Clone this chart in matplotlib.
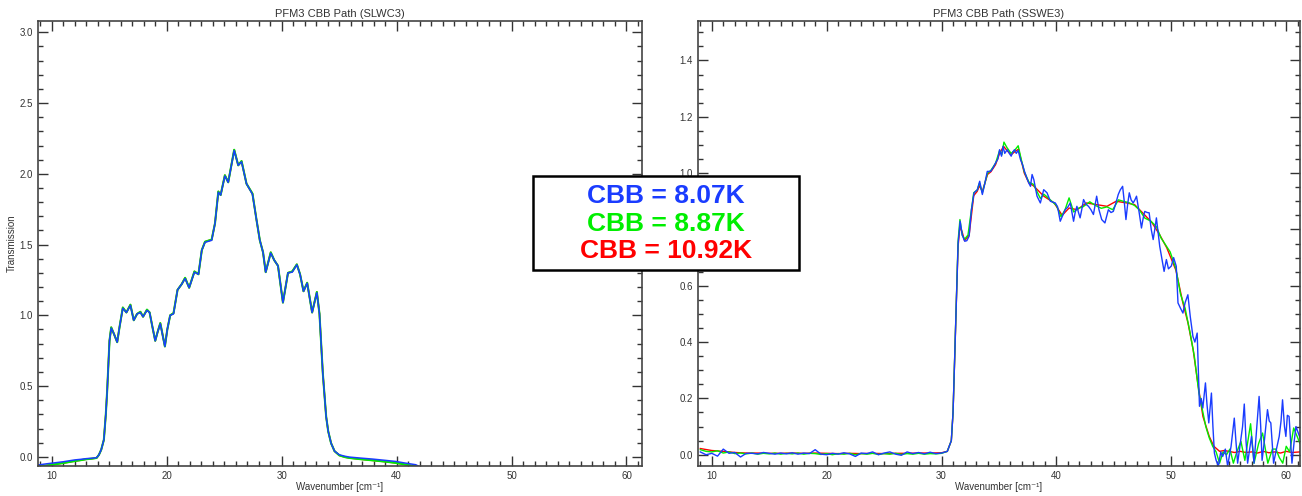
import matplotlib
matplotlib.use("Agg")
import matplotlib.pyplot as plt
from matplotlib.patches import Rectangle
from matplotlib.ticker import MultipleLocator

plt.rcParams['font.family'] = ['Liberation Sans', 'DejaVu Sans']

# ---- SLWC3 path (left panel) ----
slwc_wn = [8.8, 9.5, 10, 11, 12, 12.5, 13, 13.5, 13.9, 14.1, 14.3, 14.53, 14.7, 14.82,
           15.02, 15.17, 15.4, 15.69, 15.9, 16.18, 16.49, 16.84, 17.13, 17.42, 17.71,
           17.94, 18.28, 18.51, 18.75, 19.0, 19.2, 19.44, 19.84, 20.05, 20.3, 20.59,
           20.94, 21.3, 21.6, 21.95, 22.41, 22.76, 23.05, 23.33, 23.91, 24.2, 24.49,
           24.69, 25.06, 25.35, 25.87, 26.22, 26.51, 26.94, 27.46, 27.8, 28.1, 28.38,
           28.61, 29.05, 29.35, 29.68, 30.11, 30.55, 30.92, 31.32, 31.6, 31.9, 32.22,
           32.65, 33.06, 33.29, 33.58, 33.87, 34.05, 34.3, 34.6, 35.02, 35.5, 35.89,
           37.0, 37.9, 39.0, 39.93, 40.8, 41.66, 42.2]
slwc_blue = [-0.058, -0.05, -0.045, -0.035, -0.022, -0.018, -0.013, -0.01, -0.006, 0.014,
             0.05, 0.12, 0.3, 0.47, 0.82, 0.91, 0.87, 0.81, 0.92, 1.05, 1.02, 1.07, 0.965,
             1.01, 1.02, 0.99, 1.035, 1.02, 0.92, 0.82, 0.88, 0.94, 0.78, 0.9, 1.0, 1.01,
             1.18, 1.22, 1.26, 1.195, 1.305, 1.29, 1.46, 1.516, 1.53, 1.65, 1.87, 1.85,
             1.985, 1.94, 2.165, 2.06, 2.085, 1.93, 1.855, 1.68, 1.53, 1.445, 1.305, 1.44,
             1.39, 1.35, 1.09, 1.30, 1.305, 1.357, 1.29, 1.17, 1.227, 1.02, 1.16, 1.01,
             0.59, 0.284, 0.18, 0.096, 0.04, 0.014, 0.004, -0.002, -0.01, -0.016, -0.025,
             -0.033, -0.045, -0.056, -0.078]
slwc_green = [-0.068, -0.062, -0.056, -0.044, -0.03, -0.024, -0.017, -0.013, -0.008, 0.014,
              0.05, 0.12, 0.3, 0.47, 0.82, 0.915, 0.87, 0.81, 0.92, 1.055, 1.02, 1.075, 0.965,
              1.01, 1.025, 0.99, 1.04, 1.02, 0.92, 0.82, 0.88, 0.945, 0.78, 0.9, 1.0, 1.015,
              1.18, 1.22, 1.265, 1.195, 1.31, 1.29, 1.46, 1.52, 1.535, 1.65, 1.875, 1.85,
              1.99, 1.94, 2.17, 2.06, 2.09, 1.93, 1.86, 1.68, 1.53, 1.445, 1.305, 1.445,
              1.39, 1.35, 1.09, 1.30, 1.31, 1.36, 1.29, 1.17, 1.23, 1.02, 1.165, 1.01,
              0.59, 0.284, 0.18, 0.096, 0.04, 0.01, -0.002, -0.008, -0.018, -0.025, -0.034,
              -0.043, -0.055, -0.068, -0.09]

# ---- SSWE3 path (right panel) ----
sswe_wn_red = [9.0, 10, 11, 12, 13, 14, 15, 16, 17, 18, 19, 20, 21, 22, 23, 24, 25, 26, 27,
               28, 29, 30, 30.5, 30.85, 31.0, 31.15, 31.3, 31.44, 31.6, 31.8, 32.0, 32.4,
               32.8, 33.1, 33.3, 33.55, 34.0, 34.3, 34.7, 35.05, 35.4, 35.7, 36.05, 36.35,
               36.7, 37.2, 37.6, 38.0, 38.9, 39.8, 40.5, 41.1, 41.8, 42.6, 43.5, 44.4, 45.2,
               46.1, 46.8, 47.5, 48.3, 49.0, 49.6, 50.4, 51.0, 51.45, 51.9, 52.3, 52.75,
               53.3, 53.7, 54.2, 54.6, 55.0, 55.5, 56, 56.5, 57, 57.5, 58, 58.5, 59, 59.5,
               60, 60.5, 61.2]
sswe_red = [0.022, 0.015, 0.012, 0.008, 0.006, 0.006, 0.005, 0.005, 0.006, 0.005, 0.006,
            0.005, 0.004, 0.005, 0.004, 0.005, 0.004, 0.005, 0.005, 0.006, 0.006, 0.007,
            0.012, 0.05, 0.15, 0.35, 0.56, 0.74, 0.81, 0.79, 0.76, 0.78, 0.92, 0.935, 0.955,
            0.935, 0.995, 1.005, 1.03, 1.07, 1.095, 1.08, 1.065, 1.075, 1.085, 1.0, 0.965,
            0.955, 0.918, 0.894, 0.85, 0.876, 0.87, 0.894, 0.888, 0.882, 0.9, 0.894, 0.888,
            0.859, 0.825, 0.78, 0.735, 0.655, 0.54, 0.468, 0.373, 0.255, 0.136, 0.065, 0.03,
            0.012, 0.015, 0.012, 0.008, 0.012, 0.008, 0.01, 0.006, 0.012, 0.007, 0.01, 0.006,
            0.012, 0.008, 0.01]

sswe_wn_green = [9.0, 9.5, 10, 10.5, 11, 11.5, 12, 12.5, 13, 13.5, 14, 14.5, 15, 15.5, 16,
                 16.5, 17, 17.5, 18, 18.5, 19, 19.5, 20, 20.5, 21, 21.5, 22, 22.5, 23, 23.5,
                 24, 24.5, 25, 25.5, 26, 26.5, 27, 27.5, 28, 28.5, 29, 29.5, 30, 30.5, 30.85,
                 31.0, 31.15, 31.3, 31.44, 31.6, 31.8, 32.0, 32.3, 32.8, 33.1, 33.3, 33.55,
                 34.0, 34.3, 34.7, 35.05, 35.25, 35.43, 35.7, 36.05, 36.35, 36.67, 36.9, 37.2,
                 37.6, 38.0, 38.3, 38.6, 38.9, 39.2, 39.6, 40.0, 40.4, 40.75, 41.1, 41.5, 41.9,
                 42.3, 42.9, 43.4, 43.9, 44.4, 44.9, 45.4, 45.8, 46.3, 46.8, 47.2, 47.7, 48.2,
                 48.7, 49.1, 49.5, 49.9, 50.4, 50.8, 51.2, 51.6, 52.0, 52.4, 52.8, 53.0, 53.3,
                 53.6, 53.9, 54.2, 54.5, 54.8, 55.1, 55.4, 55.7, 56.06, 56.4, 56.9, 57.2, 57.6,
                 57.94, 58.4, 58.8, 59.1, 59.4, 59.7, 60.0, 60.3, 60.65, 61.2]
sswe_green = [0.018, 0.012, 0.01, 0.014, 0.006, 0.01, 0.004, 0.006, 0.003, 0.006, 0.002,
              0.005, 0.003, 0.006, 0.002, 0.005, 0.003, 0.006, 0.002, 0.005, 0.004, 0.001,
              0.004, 0.0, 0.004, 0.002, 0.005, 0.0, 0.004, 0.002, 0.005, 0.001, 0.004, 0.002,
              0.005, 0.001, 0.004, 0.002, 0.005, 0.002, 0.004, 0.003, 0.005, 0.012, 0.05,
              0.15, 0.36, 0.57, 0.76, 0.835, 0.78, 0.765, 0.78, 0.93, 0.94, 0.965, 0.93, 1.0,
              1.01, 1.035, 1.08, 1.065, 1.11, 1.09, 1.07, 1.08, 1.097, 1.055, 1.005, 0.968,
              0.96, 0.935, 0.91, 0.925, 0.915, 0.9, 0.885, 0.845, 0.87, 0.912, 0.862, 0.875,
              0.88, 0.898, 0.885, 0.875, 0.88, 0.87, 0.905, 0.9, 0.895, 0.885, 0.87, 0.84,
              0.83, 0.81, 0.77, 0.745, 0.72, 0.66, 0.57, 0.52, 0.44, 0.35, 0.22, 0.14, 0.10,
              0.06, 0.03, 0.01, -0.03, 0.01, 0.0, 0.02, -0.03, 0.01, 0.047, -0.02, 0.11,
              -0.03, 0.04, 0.077, -0.03, 0.02, 0.02, -0.01, -0.03, 0.03, 0.01, 0.095, 0.04]

sswe_wn_blue = [9.0, 9.5, 10, 10.5, 11, 11.5, 12, 12.5, 13, 13.5, 14, 14.5, 15, 15.5, 16,
                16.5, 17, 17.5, 18, 18.5, 19, 19.5, 20, 20.5, 21, 21.5, 22, 22.5, 23, 23.5,
                24, 24.5, 25, 25.5, 26, 26.5, 27, 27.5, 28, 28.5, 29, 29.5, 30, 30.5, 30.85,
                31.0, 31.15, 31.3, 31.44, 31.62, 31.8, 32.02, 32.2, 32.4, 32.6, 32.83, 33.12,
                33.32, 33.55, 33.75, 33.98, 34.27, 34.5, 34.7, 34.9, 35.05, 35.22, 35.35, 35.5,
                35.71, 35.9, 36.06, 36.2, 36.35, 36.5, 36.67, 36.87, 37.05, 37.22, 37.4, 37.59,
                37.74, 37.88, 38.03, 38.31, 38.6, 38.89, 39.18, 39.47, 39.9, 40.1, 40.33,
                40.55, 40.76, 41.0, 41.2, 41.35, 41.49, 41.63, 41.78, 41.92, 42.06, 42.2,
                42.36, 42.55, 42.79, 43.0, 43.22, 43.5, 43.7, 43.94, 44.22, 44.52, 44.75,
                44.95, 45.15, 45.38, 45.55, 45.76, 45.9, 46.05, 46.2, 46.34, 46.5, 46.68,
                46.83, 46.97, 47.2, 47.4, 47.55, 47.69, 47.9, 48.07, 48.25, 48.42, 48.56,
                48.7, 48.85, 48.99, 49.2, 49.37, 49.57, 49.75, 50.0, 50.2, 50.43, 50.58, 50.8,
                51.01, 51.2, 51.44, 51.65, 51.88, 52.05, 52.25, 52.45, 52.6, 52.74, 52.97,
                53.1, 53.26, 53.49, 53.62, 53.75, 53.9, 54.1, 54.3, 54.47, 54.7, 54.9, 55.2,
                55.48, 55.62, 55.77, 56.0, 56.2, 56.35, 56.5, 56.64, 56.82, 56.98, 57.2, 57.4,
                57.64, 57.78, 57.9, 58.1, 58.37, 58.52, 58.66, 58.9, 59.15, 59.39, 59.55,
                59.68, 59.85, 59.97, 60.1, 60.25, 60.5, 60.7, 60.85, 61.2]
sswe_blue = [0.01, 0.0, 0.005, -0.005, 0.02, 0.005, 0.008, -0.008, 0.005, 0.005, 0.003,
             0.008, 0.005, 0.002, 0.006, 0.003, 0.007, 0.002, 0.006, 0.004, 0.018, 0.002,
             0.0, 0.005, 0.002, 0.007, 0.003, -0.006, 0.006, 0.004, 0.01, 0.0, 0.006, 0.01,
             0.002, -0.002, 0.01, 0.004, 0.008, 0.003, 0.009, 0.004, 0.006, 0.012, 0.05,
             0.15, 0.35, 0.56, 0.75, 0.829, 0.78, 0.758, 0.76, 0.776, 0.87, 0.93, 0.941,
             0.971, 0.924, 0.96, 1.006, 1.006, 1.02, 1.036, 1.05, 1.083, 1.06, 1.095, 1.07,
             1.083, 1.07, 1.06, 1.075, 1.083, 1.07, 1.08, 1.048, 1.03, 1.006, 0.985, 0.965,
             0.953, 0.995, 0.977, 0.918, 0.894, 0.941, 0.93, 0.9, 0.894, 0.88, 0.829, 0.85,
             0.87, 0.88, 0.894, 0.86, 0.829, 0.86, 0.882, 0.86, 0.841, 0.87, 0.906, 0.89,
             0.882, 0.87, 0.853, 0.918, 0.87, 0.835, 0.823, 0.87, 0.86, 0.864, 0.89, 0.924,
             0.94, 0.953, 0.9, 0.835, 0.89, 0.93, 0.905, 0.894, 0.905, 0.918, 0.86, 0.805,
             0.84, 0.864, 0.86, 0.859, 0.8, 0.764, 0.8, 0.841, 0.79, 0.74, 0.69, 0.651,
             0.693, 0.66, 0.67, 0.7, 0.669, 0.539, 0.52, 0.503, 0.54, 0.568, 0.49, 0.42, 0.40,
             0.432, 0.172, 0.2, 0.166, 0.255, 0.18, 0.113, 0.219, 0.1, 0.006, -0.02, -0.04,
             0.01, -0.006, 0.02, -0.04, 0.03, 0.13, 0.05, -0.03, 0.04, 0.1, 0.18, 0.05,
             -0.03, 0.02, 0.065, -0.03, 0.08, 0.207, 0.1, -0.02, 0.05, 0.16, 0.12, 0.113,
             -0.03, 0.02, 0.065, 0.12, 0.195, 0.1, 0.065, 0.14, 0.136, -0.03, 0.05, 0.1, 0.06]

cbb_labels = ["CBB = 8.07K", "CBB = 8.87K", "CBB = 10.92K"]

BLUE = '#1a3cff'
GREEN = '#00ee00'
RED = '#ff0000'
GREY = '#333333'

fig = plt.figure(figsize=(13.02, 4.96), dpi=100)
ax1 = fig.add_axes([38 / 1302, 30 / 496, 604 / 1302, 445 / 496])
ax2 = fig.add_axes([698 / 1302, 30 / 496, 602 / 1302, 445 / 496])


def style_axis(ax, ymajor, yminor):
    ax.xaxis.set_major_locator(MultipleLocator(10))
    ax.xaxis.set_minor_locator(MultipleLocator(1))
    ax.yaxis.set_major_locator(MultipleLocator(ymajor))
    ax.yaxis.set_minor_locator(MultipleLocator(yminor))
    ax.tick_params(which='both', direction='in', top=True, right=True,
                   colors=GREY, labelsize=7, width=1.0)
    ax.tick_params(which='major', length=7)
    ax.tick_params(which='minor', length=3.5)
    for s in ax.spines.values():
        s.set_color('#444444')
        s.set_linewidth(1.2)
    ax.yaxis.set_major_formatter(lambda v, p: f"{v:.1f}")
    ax.set_xlabel("Wavenumber [cm\u207b\u00b9]", fontsize=7, color=GREY, labelpad=1)


# Left panel
ax1.plot(slwc_wn, slwc_green, color=RED, lw=1.2)
ax1.plot(slwc_wn, slwc_green, color=GREEN, lw=1.5)
ax1.plot(slwc_wn, slwc_blue, color=BLUE, lw=1.1)
ax1.set_xlim(8.8, 61.35)
ax1.set_ylim(-0.065, 3.08)
style_axis(ax1, 0.5, 0.1)
ax1.set_ylabel("Transmission", fontsize=7, color=GREY)
ax1.yaxis.set_label_coords(-21 / 604, 0.5)
ax1.set_title("PFM3 CBB Path (SLWC3)", fontsize=8, color=GREY, pad=3)

# Right panel
ax2.plot(sswe_wn_red, sswe_red, color=RED, lw=1.0)
ax2.plot(sswe_wn_green, sswe_green, color=GREEN, lw=1.0)
ax2.plot(sswe_wn_blue, sswe_blue, color=BLUE, lw=1.0)
ax2.set_xlim(8.8, 61.2)
ax2.set_ylim(-0.04, 1.54)
style_axis(ax2, 0.2, 0.05)
ax2.set_title("PFM3 CBB Path (SSWE3)", fontsize=8, color=GREY, pad=3)

# CBB legend box
box = Rectangle((533 / 1302, 1 - 270 / 496), 266 / 1302, 94 / 496,
                transform=fig.transFigure, facecolor='white', edgecolor='black',
                linewidth=1.8, zorder=10)
fig.add_artist(box)
for i, (txt, col) in enumerate(zip(cbb_labels, [BLUE, GREEN, RED])):
    fig.text(666 / 1302, 1 - (196 + 27.5 * i) / 496, txt, color=col, fontsize=19,
             fontweight='bold', ha='center', va='center', zorder=11)

fig.savefig("out.png", dpi=100)
